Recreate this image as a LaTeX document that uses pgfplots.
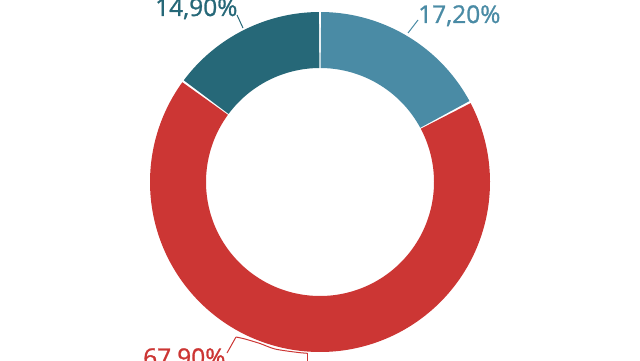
\documentclass[border=0pt]{standalone}
\usepackage{pgfplots}
\pgfplotsset{compat=1.18}
\usepackage{fontspec}
\setmainfont{Open Sans}
\newfontfamily\lab[FakeBold=1.1]{Open Sans}
\definecolor{tealL}{RGB}{74,139,165}
\definecolor{tealD}{RGB}{38,104,120}
\definecolor{redS}{RGB}{204,54,52}
% shares (percent), clockwise from 12 o'clock
\def\vA{17.2}
\def\vB{67.9}
\def\vC{14.9}
\pgfmathsetmacro{\aS}{90}
\pgfmathsetmacro{\aA}{\aS-3.6*\vA}
\pgfmathsetmacro{\aB}{\aA-3.6*\vB}
\pgfmathsetmacro{\aC}{\aB-3.6*\vC}
\def\g{0.35}
\pgfmathsetmacro{\dAlo}{\aA+\g}\pgfmathsetmacro{\dAhi}{\aS-\g}
\pgfmathsetmacro{\dBlo}{\aB+\g}\pgfmathsetmacro{\dBhi}{\aA-\g}
\pgfmathsetmacro{\dClo}{\aC+\g}\pgfmathsetmacro{\dChi}{\aB-\g}
\begin{document}
\begin{tikzpicture}
\useasboundingbox (0,0) rectangle (640pt,360pt);
\clip (0,0) rectangle (640pt,360pt);
\begin{axis}[at={(0pt,0pt)}, anchor=south west, scale only axis,
  width=640pt, height=360pt, xmin=0, xmax=640, ymin=0, ymax=360,
  hide axis, clip=false]
\addplot[draw=tealL, line width=56pt, domain=\dAlo:\dAhi, samples=90, variable=\t] ({320+142*cos(t)},{178+142*sin(t)});
\addplot[draw=redS, line width=56pt, domain=\dBlo:\dBhi, samples=240, variable=\t] ({320+142*cos(t)},{178+142*sin(t)});
\addplot[draw=tealD, line width=56pt, domain=\dClo:\dChi, samples=90, variable=\t] ({320+142*cos(t)},{178+142*sin(t)});
% leaders
\addplot[tealL, line width=1pt] coordinates {(408,327) (418,340)};
\addplot[tealD, line width=1pt] coordinates {(243,332) (237,345)};
\addplot[redS, line width=1pt] coordinates {(227,7) (236,23)};
\addplot[redS, line width=1pt, smooth] coordinates {(236,23) (245,21) (260,16.5) (275,11) (296.7,7.7) (307.5,6.7)};
\addplot[redS, line width=1pt] coordinates {(307.5,6.7) (307.5,-5)};
% labels
\node[anchor=base west, text=tealL, font=\lab\fontsize{24.5}{25}\selectfont, inner sep=0pt] at (axis cs:418,337) {17,20\%};
\node[anchor=base west, text=tealD, font=\lab\fontsize{24.5}{25}\selectfont, inner sep=0pt] at (axis cs:155,344) {14,90\%};
\node[anchor=base west, text=redS, font=\lab\fontsize{24.5}{25}\selectfont, inner sep=0pt] at (axis cs:143,-6) {67,90\%};
\end{axis}
\end{tikzpicture}
\end{document}
